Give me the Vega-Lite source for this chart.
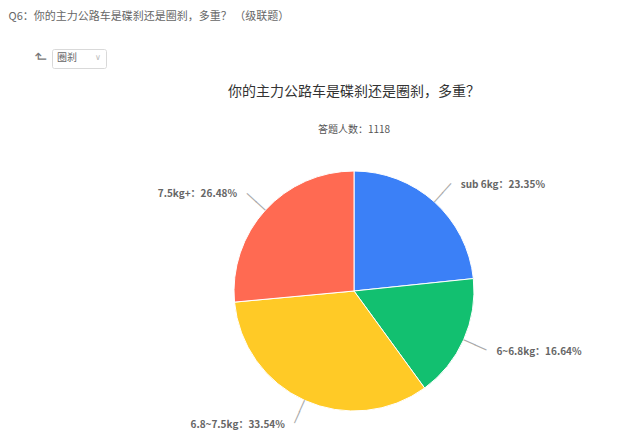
{
  "$schema": "https://vega.github.io/schema/vega-lite/v6.json",
  "autosize": {"type": "none"},
  "width": 240,
  "height": 240,
  "padding": {"left": 234, "top": 171, "right": 166, "bottom": 28},
  "background": "white",
  "config": {"font": "Noto Sans CJK SC", "view": {"stroke": null}},
  "title": {
    "text": "你的主力公路车是碟刹还是圈刹，多重？",
    "subtitle": "答题人数：1118",
    "frame": "group",
    "anchor": "middle",
    "fontSize": 14,
    "fontWeight": "normal",
    "color": "#333333",
    "subtitleFontSize": 10,
    "subtitleColor": "#555555",
    "subtitlePadding": 26,
    "offset": -125
  },
  "data": {
    "values": [
      {"option": "sub 6kg", "percent": 23.35, "label": "sub 6kg：23.35%"},
      {"option": "6~6.8kg", "percent": 16.64, "label": "6~6.8kg：16.64%"},
      {"option": "6.8~7.5kg", "percent": 33.54, "label": "6.8~7.5kg：33.54%"},
      {"option": "7.5kg+", "percent": 26.48, "label": "7.5kg+：26.48%"}
    ]
  },
  "transform": [{"window": [{"op": "row_number", "as": "rank"}]}],
  "layer": [
    {
      "mark": {"type": "arc", "stroke": "white", "strokeWidth": 1},
      "encoding": {
        "theta": {"field": "percent", "type": "quantitative", "stack": true},
        "order": {"field": "rank", "type": "quantitative"},
        "color": {
          "field": "option",
          "type": "nominal",
          "scale": {
            "domain": ["sub 6kg", "6~6.8kg", "6.8~7.5kg", "7.5kg+"],
            "range": ["#3b80f7", "#12c070", "#ffca26", "#ff6a52"]
          },
          "legend": {
            "orient": "none",
            "legendX": -182,
            "legendY": -122,
            "title": "圈刹",
            "titleOrient": "left",
            "titleFontSize": 10,
            "titleFontWeight": "normal",
            "titleColor": "#666666",
            "titlePadding": 10,
            "values": ["sub 6kg"],
            "labelExpr": "'∨'",
            "labelColor": "#bbbbbb",
            "labelFontSize": 8,
            "labelFont": "DejaVu Sans",
            "symbolOpacity": 0,
            "symbolSize": 1,
            "labelOffset": 0,
            "strokeColor": "#d9d9d9",
            "fillColor": "white",
            "padding": 5,
            "cornerRadius": 2
          }
        }
      }
    },
    {
      "mark": {"type": "text", "radius": 127, "text": "|", "fontSize": 13, "font": "DejaVu Sans", "color": "#aaaaaa", "align": "center", "baseline": "middle"},
      "encoding": {
        "theta": {"field": "percent", "type": "quantitative", "stack": true},
        "order": {"field": "rank", "type": "quantitative"},
        "angle": {
          "field": "option",
          "type": "nominal",
          "scale": {"type": "ordinal", "domain": ["sub 6kg", "6~6.8kg", "6.8~7.5kg", "7.5kg+"], "range": [42.03, 114.01, 204.34, 312.4]}
        }
      }
    },
    {
      "mark": {"type": "text", "radius": 139, "text": "|", "fontSize": 13, "font": "DejaVu Sans", "color": "#aaaaaa", "align": "center", "baseline": "middle"},
      "encoding": {
        "theta": {"field": "percent", "type": "quantitative", "stack": true},
        "order": {"field": "rank", "type": "quantitative"},
        "angle": {
          "field": "option",
          "type": "nominal",
          "scale": {"type": "ordinal", "domain": ["sub 6kg", "6~6.8kg", "6.8~7.5kg", "7.5kg+"], "range": [42.03, 114.01, 204.34, 312.4]}
        }
      }
    },
    {
      "mark": {"type": "text", "radius": 146, "align": "left", "baseline": "middle", "dx": 9, "dy": 2, "fontSize": 10, "fontWeight": "bold", "color": "#666666"},
      "encoding": {
        "theta": {"field": "percent", "type": "quantitative", "stack": true},
        "order": {"field": "rank", "type": "quantitative"},
        "text": {"condition": {"test": "datum.option === 'sub 6kg' || datum.option === '6~6.8kg'", "field": "label", "type": "nominal"}, "value": ""}
      }
    },
    {
      "mark": {"type": "text", "radius": 146, "align": "right", "baseline": "middle", "dx": -9, "dy": 1, "fontSize": 10, "fontWeight": "bold", "color": "#666666"},
      "encoding": {
        "theta": {"field": "percent", "type": "quantitative", "stack": true},
        "order": {"field": "rank", "type": "quantitative"},
        "text": {"condition": {"test": "datum.option === '6.8~7.5kg' || datum.option === '7.5kg+'", "field": "label", "type": "nominal"}, "value": ""}
      }
    },
    {
      "mark": {"type": "point", "opacity": 0},
      "encoding": {
        "x": {
          "field": "percent",
          "type": "quantitative",
          "axis": {
            "orient": "top",
            "title": "Q6：你的主力公路车是碟刹还是圈刹，多重？ （级联题）",
            "titleX": -226,
            "titleY": -155,
            "titleAlign": "left",
            "titleBaseline": "middle",
            "titleAngle": 0,
            "titleFontSize": 11,
            "titleFontWeight": "normal",
            "titleColor": "#666666",
            "domain": false,
            "ticks": false,
            "labels": false,
            "grid": false
          }
        },
        "y": {
          "field": "percent",
          "type": "quantitative",
          "axis": {
            "title": "↱",
            "titleX": -194,
            "titleY": -115,
            "titleAlign": "center",
            "titleBaseline": "middle",
            "titleAngle": 270,
            "titleFontSize": 15,
            "titleFont": "DejaVu Sans",
            "titleFontWeight": "normal",
            "titleColor": "#777777",
            "domain": false,
            "ticks": false,
            "labels": false,
            "grid": false
          }
        }
      }
    }
  ]
}
